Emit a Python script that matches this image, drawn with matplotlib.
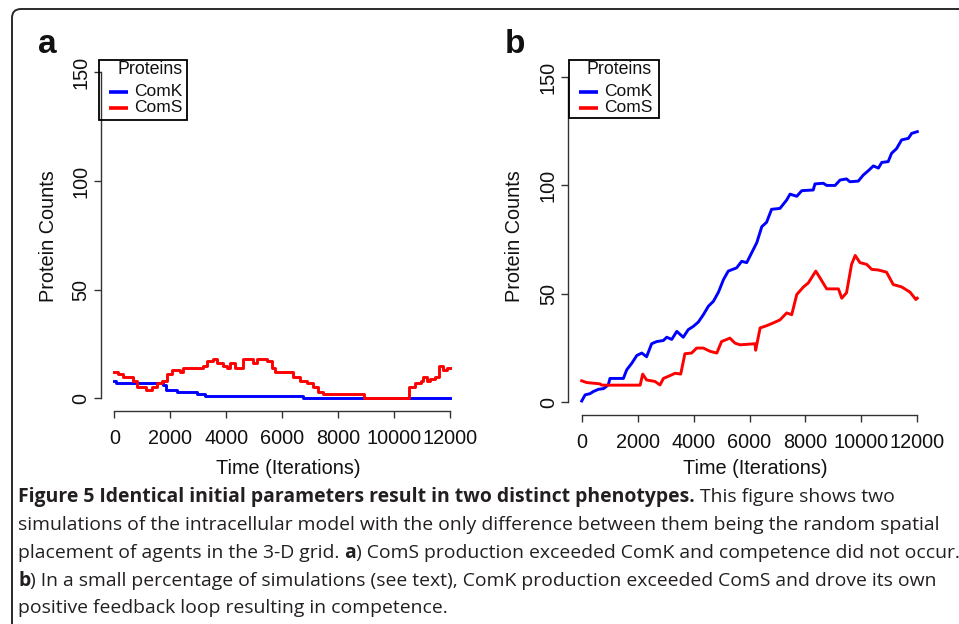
import matplotlib
matplotlib.use('Agg')
import matplotlib.pyplot as plt
from matplotlib.path import Path
from matplotlib.patches import PathPatch, Rectangle
from matplotlib.lines import Line2D
import matplotlib.transforms as mtransforms
from matplotlib import font_manager

# ---------------- data ----------------
proteins = ["ComK", "ComS"]
colors = {"ComK": "#0000FF", "ComS": "#FF0000"}

# Panel a (step traces)
a_comk_t = [0, 60, 1750, 1830, 2230, 2940, 3240, 6760, 12000]
a_comk_v = [8, 7, 6, 4, 3, 2, 1, 0, 0]
a_coms_t = [0, 140, 320, 680, 800, 1150, 1330, 1510, 1690, 1870, 2050, 2340, 2460,
            3180, 3300, 3540, 3660, 3900, 4020, 4140, 4310, 4610, 4970, 5090, 5450,
            5620, 5740, 6400, 6640, 6880, 7110, 7290, 7470, 8930, 10550, 10750,
            10950, 11050, 11170, 11290, 11460, 11620, 11760, 11880, 12000]
a_coms_v = [12, 11, 10, 8, 5, 4, 5, 7, 8, 11, 13, 12, 14,
            15, 17, 18, 16, 15, 14, 16, 14, 18, 16, 18, 17,
            14, 12, 10, 8, 7, 5, 3, 2, 0, 5, 7,
            8, 10, 8, 9, 10, 15, 13, 14, 14]

# Panel b
b_comk_t = [0, 120, 300, 420, 600, 780, 950, 1010, 1490, 1610, 1790, 1970, 2150, 2320,
            2500, 2680, 2920, 3040, 3220, 3400, 3630, 3810, 3990, 4170, 4350, 4530,
            4710, 4890, 5070, 5240, 5540, 5720, 5900, 6080, 6260, 6440, 6610, 6790,
            7090, 7330, 7450, 7690, 7870, 8280, 8340, 8640, 8760, 9060, 9240, 9470,
            9590, 9890, 10070, 10250, 10430, 10610, 10730, 10960, 11080, 11260,
            11440, 11680, 11800, 12000]
b_comk_v = [0.6, 3.4, 4, 5, 6, 6.3, 8, 11, 11, 15, 18, 21.6, 22.7, 21,
            27, 28, 28.5, 30, 29, 32.7, 30, 33.5, 35, 37, 40.4, 44.3,
            46.6, 50.8, 56.6, 60.5, 62, 65, 64.4, 69, 73.6, 81, 83, 89,
            89.4, 93.3, 96, 95, 97.6, 97.9, 100.7, 101, 100, 100, 102.5, 103,
            101.7, 102, 104.8, 106.8, 109, 108, 110.6, 111, 114.8, 117,
            121, 121.7, 124, 124.8]
b_coms_t = [0, 180, 650, 720, 2090, 2180, 2320, 2620, 2800, 2920, 3160, 3340, 3540,
            3690, 3930, 4110, 4350, 4590, 4830, 5000, 5300, 5480, 5660, 6200, 6220,
            6380, 6610, 6850, 7090, 7330, 7510, 7690, 7930, 8100, 8370, 8520, 8760,
            9180, 9300, 9470, 9650, 9780, 9950, 10190, 10370, 10610, 10900, 11140,
            11440, 11740, 11950, 12000]
b_coms_v = [9.9, 9.1, 8.5, 7.9, 7.9, 13, 10.3, 9.6, 8, 11, 12.3, 13.4, 13,
            22.4, 22.7, 25, 25, 23.5, 22.7, 28, 29.6, 27.3, 26.5, 27, 24,
            34.3, 35.3, 36.6, 38, 41.2, 40.4, 49.7, 53.2, 55, 60.5, 57.4, 52.3,
            52.3, 48, 50.5, 63.6, 67.7, 64.4, 63.6, 61.3, 61, 60, 54.3,
            53.2, 50.8, 47.4, 48]

x_ticks = [0, 2000, 4000, 6000, 8000, 10000, 12000]
y_ticks = [0, 50, 100, 150]
x_label = "Time (Iterations)"
y_label = "Protein Counts"
legend_title = "Proteins"

caption_lines = [
    [("Figure 5 Identical initial parameters result in two distinct phenotypes.", "bold", False),
     ("This figure shows two", "normal", True)],
    [("simulations of the intracellular model with the only difference between them being the random spatial", "normal", False)],
    [("placement of agents in the 3-D grid.", "normal", False), ("a", "bold", True),
     (") ComS production exceeded ComK and competence did not occur.", "normal", False)],
    [("b", "bold", False),
     (") In a small percentage of simulations (see text), ComK production exceeded ComS and drove its own", "normal", False)],
    [("positive feedback loop resulting in competence.", "normal", False)],
]

# ---------------- figure ----------------
W, H = 959, 624
fig = plt.figure(figsize=(W / 100, H / 100), dpi=100)
fig.patch.set_facecolor('white')
PX = mtransforms.Affine2D().scale(1 / W, -1 / H).translate(0, 1) + fig.transFigure


def has_font(name):
    try:
        font_manager.findfont(font_manager.FontProperties(family=name), fallback_to_default=False)
        return True
    except Exception:
        return False


PLOT_FONT = 'Liberation Sans' if has_font('Liberation Sans') else 'DejaVu Sans'
CAP_FONT = next((f for f in ['Open Sans', 'Noto Sans', 'DejaVu Sans'] if has_font(f)), 'DejaVu Sans')
plt.rcParams['font.family'] = [PLOT_FONT, 'DejaVu Sans']

# outer rounded frame (top-left corner only visible)
fx, fy, r = 12, 9, 9
verts = [(fx, H + 10), (fx, fy + r), (fx, fy), (fx + r, fy), (W + 10, fy)]
codes = [Path.MOVETO, Path.LINETO, Path.CURVE3, Path.CURVE3, Path.LINETO]
fig.add_artist(PathPatch(Path(verts, codes), transform=PX, fill=False,
                         edgecolor='#2a2a2a', lw=1.4))


def axes_px(l, t, r_, b):
    return fig.add_axes([l / W, 1 - b / H, (r_ - l) / W, (b - t) / H])


def style_axes(ax):
    ax.set_xlim(-480, 12480)
    ax.set_ylim(-6, 156)
    for s in ('top', 'right'):
        ax.spines[s].set_visible(False)
    ax.spines['left'].set_bounds(0, 150)
    ax.spines['bottom'].set_bounds(0, 12000)
    for s in ('left', 'bottom'):
        ax.spines[s].set_color('#333333')
        ax.spines[s].set_linewidth(1.0)
    ax.set_xticks(x_ticks)
    ax.set_xticklabels([str(v) for v in x_ticks])
    ax.set_yticks(y_ticks)
    ax.set_yticklabels([str(v) for v in y_ticks], rotation=90, va='center')
    ax.tick_params(axis='both', length=5, width=1.0, color='#333333', labelsize=14.3,
                   labelcolor='#111111')
    ax.tick_params(axis='x', pad=7.5)
    ax.tick_params(axis='y', pad=2.5)
    ax.patch.set_alpha(0)


def manual_legend(box, title_right, line_x, text_x, rows_y, title_y):
    x0, y0, x1, y1 = box
    fig.add_artist(Rectangle((x0, y0), x1 - x0, y1 - y0, transform=PX, fill=False,
                             edgecolor='black', lw=1.3))
    fig.text(title_right / W, 1 - title_y / H, legend_title, ha='right', va='center',
             fontsize=12.8, color='#111111')
    for name, yy in zip(proteins, rows_y):
        fig.add_artist(Line2D([line_x[0], line_x[1]], [yy, yy], transform=PX,
                              color=colors[name], lw=2.6, solid_capstyle='butt'))
        fig.text(text_x / W, 1 - yy / H, name, ha='left', va='center',
                 fontsize=12.5, color='#111111')


# Panel a
axA = axes_px(100.9, 59.3, 463.4, 411.3)
style_axes(axA)
axA.plot(a_comk_t, a_comk_v, drawstyle='steps-post', color=colors["ComK"], lw=2.1)
axA.plot(a_coms_t, a_coms_v, drawstyle='steps-post', color=colors["ComS"], lw=2.1)
fig.text(288 / W, 1 - 468 / H, x_label, ha='center', va='center', fontsize=14.3, color='#111111')
fig.text(48 / W, 1 - 236 / H, y_label, ha='center', va='center', rotation=90, fontsize=14.3, color='#111111')
fig.text(47 / W, 1 - 53 / H, "a", ha='center', va='baseline', fontsize=24, fontweight='bold', color='#111111')
manual_legend((98.5, 59.5, 186.5, 119.5), 182.5, (109, 128), 134, (92.0, 108.0), 70)

# Panel b
axB = axes_px(568.3, 64, 930.7, 415.3)
style_axes(axB)
axB.plot(b_comk_t, b_comk_v, color=colors["ComK"], lw=2.1)
axB.plot(b_coms_t, b_coms_v, color=colors["ComS"], lw=2.1)
fig.text(755 / W, 1 - 468 / H, x_label, ha='center', va='center', fontsize=14.3, color='#111111')
fig.text(515 / W, 1 - 236 / H, y_label, ha='center', va='center', rotation=90, fontsize=14.3, color='#111111')
fig.text(515 / W, 1 - 53 / H, "b", ha='center', va='baseline', fontsize=24, fontweight='bold', color='#111111')
manual_legend((568.5, 59.5, 659.3, 118.3), 652, (579.3, 598.3), 604, (91.5, 107.5), 69.5)

# ---------------- caption ----------------
renderer = fig.canvas.get_renderer()


def text_width(s, size, weight):
    t = fig.text(0, 0, s, fontsize=size, fontweight=weight, family=[CAP_FONT, 'DejaVu Sans'])
    w = t.get_window_extent(renderer).width
    t.remove()
    return w


def line_width(segs, size):
    sw = text_width("x x", size, 'normal') - text_width("xx", size, 'normal')
    tot = 0
    for s, wt, sp in segs:
        if sp:
            tot += sw
        tot += text_width(s, size, wt)
    return tot, sw


trial = 10.0
w3, _ = line_width(caption_lines[2], trial)
cap_size = trial * (939.0 / w3)
baselines = [502, 530, 558, 586, 613]
cap_x0 = 18
for segs, yb in zip(caption_lines, baselines):
    _, sw = line_width(segs, cap_size)
    x = cap_x0
    for s, wt, sp in segs:
        if sp:
            x += sw
        t = fig.text(x / W, 1 - yb / H, s, fontsize=cap_size, fontweight=wt,
                     family=[CAP_FONT, 'DejaVu Sans'], ha='left', va='baseline',
                     color='#231f20')
        x += t.get_window_extent(renderer).width

fig.savefig('out.png', dpi=100, facecolor='white')
